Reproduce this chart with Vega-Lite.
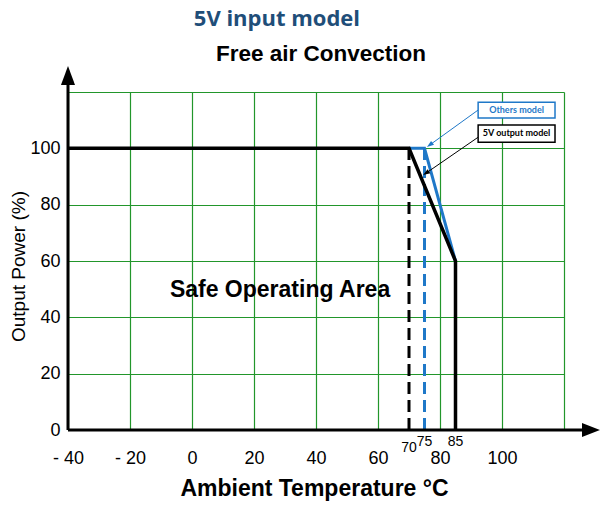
{
  "$schema": "https://vega.github.io/schema/vega-lite/v6.json",
  "width": 496,
  "height": 338,
  "autosize": {"type": "none"},
  "padding": {"left": 68, "top": 92, "right": 36, "bottom": 80},
  "config": {"view": {"stroke": null}, "font": "Liberation Sans"},
  "datasets": {
    "curves": [
      {"series": "5V output model", "t": -40, "p": 100, "o": 1},
      {"series": "5V output model", "t": 70, "p": 100, "o": 2},
      {"series": "5V output model", "t": 85, "p": 60, "o": 3},
      {"series": "5V output model", "t": 85, "p": 0, "o": 4},
      {"series": "Others model", "t": 70, "p": 100, "o": 1},
      {"series": "Others model", "t": 75, "p": 100, "o": 2},
      {"series": "Others model", "t": 85, "p": 60, "o": 3}
    ],
    "limits": [
      {"series": "5V output model", "t": 70, "p0": 0, "p": 100},
      {"series": "Others model", "t": 75, "p0": 0, "p": 100}
    ],
    "axes": [
      {"axis": "x", "t": -40, "p": 0, "t2": 125.8, "p2": 0},
      {"axis": "y", "t": -40, "p": 0, "t2": -40, "p2": 122.5}
    ],
    "heads": [
      {"axis": "x", "t": 128.7, "p": 0},
      {"axis": "y", "t": -40, "p": 125.85}
    ],
    "callouts": [
      {"series": "Others model", "bx0": 92.3, "bx1": 117.1, "by0": 110.8, "by1": 116.4, "tx": 104.7, "ty": 113.6, "ax0": 92.3, "ay0": 113.6, "ax1": 76.7, "ay1": 101.2},
      {"series": "5V output model", "bx0": 92.3, "bx1": 117.1, "by0": 102.2, "by1": 108.3, "tx": 104.7, "ty": 105.3, "ax0": 92.9, "ay0": 104.4, "ax1": 75.5, "ay1": 91.2}
    ],
    "marks": [
      {"t": 70, "p": 0, "label": "70", "row": "low"},
      {"t": 75, "p": 0, "label": "75", "row": "high"},
      {"t": 85, "p": 0, "label": "85", "row": "high"}
    ],
    "notes": [
      {"note": "5V input model", "t": 27.4, "p": 143.4},
      {"note": "Free air Convection", "t": 41.6, "p": 131},
      {"note": "Safe Operating Area", "t": 28.4, "p": 47.2}
    ]
  },
  "layer": [
    {
      "data": {"name": "limits"},
      "mark": {"type": "rule", "strokeWidth": 3, "strokeDash": [12, 6]},
      "encoding": {
        "x": {
          "field": "t", "type": "quantitative",
          "scale": {"domain": [-40, 120], "nice": false, "zero": false},
          "axis": {
            "title": "Ambient Temperature  °C",
            "titleFont": "Liberation Sans", "titleFontSize": 23, "titleFontWeight": "bold", "titleColor": "#000000",
            "titleX": 246, "titleY": 65, "titleAlign": "center", "titleBaseline": "alphabetic",
            "values": [-40, -20, 0, 20, 40, 60, 80, 100, 120],
            "grid": true, "gridColor": "#22962b", "gridWidth": 1.2, "gridOpacity": 1,
            "domain": false, "ticks": false, "tickSize": 0,
            "labelFont": "Liberation Sans", "labelFontSize": 18, "labelColor": "#000000",
            "labelBaseline": "alphabetic", "labelPadding": 33, "labelFlush": false, "labelOverlap": false,
            "labelExpr": "datum.value == 120 ? '' : (datum.value < 0 ? '- ' + abs(datum.value) : datum.label)"
          }
        },
        "y": {
          "field": "p0", "type": "quantitative",
          "scale": {"domain": [0, 120], "nice": false, "zero": true},
          "axis": {
            "title": "Output Power (%)",
            "titleFont": "Liberation Sans", "titleFontSize": 19, "titleFontWeight": "normal", "titleColor": "#000000",
            "titleX": -50, "titleY": 174, "titleAngle": -90, "titleAlign": "center", "titleBaseline": "middle",
            "values": [0, 20, 40, 60, 80, 100, 120],
            "grid": true, "gridColor": "#22962b", "gridWidth": 1.2, "gridOpacity": 1,
            "domain": false, "ticks": false, "tickSize": 0,
            "labelFont": "Liberation Sans", "labelFontSize": 18, "labelColor": "#000000",
            "labelPadding": 8, "labelFlush": false, "labelOverlap": false,
            "labelExpr": "datum.value == 120 ? '' : datum.label"
          }
        },
        "y2": {"field": "p"},
        "color": {"field": "series", "type": "nominal", "scale": {"domain": ["5V output model", "Others model"], "range": ["#000000", "#1f78c8"]}, "legend": null}
      }
    },
    {
      "data": {"name": "curves"},
      "transform": [{"filter": "datum.series == 'Others model'"}],
      "mark": {"type": "line", "strokeWidth": 3, "color": "#1f78c8"},
      "encoding": {
        "x": {"field": "t", "type": "quantitative"},
        "y": {"field": "p", "type": "quantitative"},
        "order": {"field": "o"}
      }
    },
    {
      "data": {"name": "curves"},
      "transform": [{"filter": "datum.series == '5V output model'"}],
      "mark": {"type": "line", "strokeWidth": 3.5, "color": "#000000"},
      "encoding": {
        "x": {"field": "t", "type": "quantitative"},
        "y": {"field": "p", "type": "quantitative"},
        "order": {"field": "o"}
      }
    },
    {
      "data": {"name": "axes"},
      "mark": {"type": "rule", "strokeWidth": 3, "color": "#000000"},
      "encoding": {
        "x": {"field": "t", "type": "quantitative"},
        "y": {"field": "p", "type": "quantitative"},
        "x2": {"field": "t2"},
        "y2": {"field": "p2"}
      }
    },
    {
      "data": {"name": "heads"},
      "transform": [{"filter": "datum.axis == 'x'"}],
      "mark": {"type": "point", "filled": true, "opacity": 1, "color": "#000000", "strokeWidth": 0, "shape": "M-1,-0.78L1,0L-1,0.78Z", "size": 324},
      "encoding": {
        "x": {"field": "t", "type": "quantitative"},
        "y": {"field": "p", "type": "quantitative"}
      }
    },
    {
      "data": {"name": "heads"},
      "transform": [{"filter": "datum.axis == 'y'"}],
      "mark": {"type": "point", "filled": true, "opacity": 1, "color": "#000000", "strokeWidth": 0, "shape": "M-0.74,1L0,-1L0.74,1Z", "size": 361},
      "encoding": {
        "x": {"field": "t", "type": "quantitative"},
        "y": {"field": "p", "type": "quantitative"}
      }
    },
    {
      "data": {"name": "callouts"},
      "mark": {"type": "rule", "strokeWidth": 1},
      "encoding": {
        "x": {"field": "ax0", "type": "quantitative"},
        "y": {"field": "ay0", "type": "quantitative"},
        "x2": {"field": "ax1"},
        "y2": {"field": "ay1"},
        "color": {"field": "series", "type": "nominal", "legend": null}
      }
    },
    {
      "data": {"name": "callouts"},
      "transform": [{"filter": "datum.series == 'Others model'"}],
      "mark": {"type": "point", "filled": true, "opacity": 1, "color": "#1f78c8", "strokeWidth": 0, "shape": "M0,-1L0.7,1L-0.7,1Z", "size": 49, "angle": 233},
      "encoding": {
        "x": {"field": "ax1", "type": "quantitative"},
        "y": {"field": "ay1", "type": "quantitative"}
      }
    },
    {
      "data": {"name": "callouts"},
      "transform": [{"filter": "datum.series == '5V output model'"}],
      "mark": {"type": "point", "filled": true, "opacity": 1, "color": "#000000", "strokeWidth": 0, "shape": "M0,-1L0.7,1L-0.7,1Z", "size": 49, "angle": 236},
      "encoding": {
        "x": {"field": "ax1", "type": "quantitative"},
        "y": {"field": "ay1", "type": "quantitative"}
      }
    },
    {
      "data": {"name": "callouts"},
      "mark": {"type": "rect", "fill": "#ffffff", "strokeWidth": 1.5},
      "encoding": {
        "x": {"field": "bx0", "type": "quantitative"},
        "x2": {"field": "bx1"},
        "y": {"field": "by0", "type": "quantitative"},
        "y2": {"field": "by1"},
        "stroke": {"field": "series", "type": "nominal", "scale": {"domain": ["5V output model", "Others model"], "range": ["#000000", "#1f78c8"]}, "legend": null}
      }
    },
    {
      "data": {"name": "callouts"},
      "mark": {"type": "text", "font": "Lato", "fontSize": 9, "fontWeight": "bold", "align": "center", "baseline": "middle"},
      "encoding": {
        "x": {"field": "tx", "type": "quantitative"},
        "y": {"field": "ty", "type": "quantitative"},
        "text": {"field": "series"},
        "color": {"field": "series", "type": "nominal", "legend": null}
      }
    },
    {
      "data": {"name": "marks"},
      "transform": [{"filter": "datum.row == 'low'"}],
      "mark": {"type": "text", "fontSize": 14, "align": "center", "baseline": "alphabetic", "dy": 22, "color": "#000000"},
      "encoding": {
        "x": {"field": "t", "type": "quantitative"},
        "y": {"field": "p", "type": "quantitative"},
        "text": {"field": "label"}
      }
    },
    {
      "data": {"name": "marks"},
      "transform": [{"filter": "datum.row == 'high'"}],
      "mark": {"type": "text", "fontSize": 14, "align": "center", "baseline": "alphabetic", "dy": 16, "color": "#000000"},
      "encoding": {
        "x": {"field": "t", "type": "quantitative"},
        "y": {"field": "p", "type": "quantitative"},
        "text": {"field": "label"}
      }
    },
    {
      "data": {"name": "notes"},
      "transform": [{"filter": "datum.note == '5V input model'"}],
      "mark": {"type": "text", "font": "Open Sans", "fontSize": 22, "fontWeight": "bold", "color": "#1f4e79", "align": "center", "baseline": "alphabetic"},
      "encoding": {
        "x": {"field": "t", "type": "quantitative"},
        "y": {"field": "p", "type": "quantitative"},
        "text": {"field": "note"}
      }
    },
    {
      "data": {"name": "notes"},
      "transform": [{"filter": "datum.note == 'Free air Convection'"}],
      "mark": {"type": "text", "font": "Liberation Sans", "fontSize": 22.5, "fontWeight": "bold", "color": "#000000", "align": "center", "baseline": "alphabetic"},
      "encoding": {
        "x": {"field": "t", "type": "quantitative"},
        "y": {"field": "p", "type": "quantitative"},
        "text": {"field": "note"}
      }
    },
    {
      "data": {"name": "notes"},
      "transform": [{"filter": "datum.note == 'Safe Operating Area'"}],
      "mark": {"type": "text", "font": "Liberation Sans", "fontSize": 23, "fontWeight": "bold", "color": "#000000", "align": "center", "baseline": "alphabetic"},
      "encoding": {
        "x": {"field": "t", "type": "quantitative"},
        "y": {"field": "p", "type": "quantitative"},
        "text": {"field": "note"}
      }
    }
  ]
}
